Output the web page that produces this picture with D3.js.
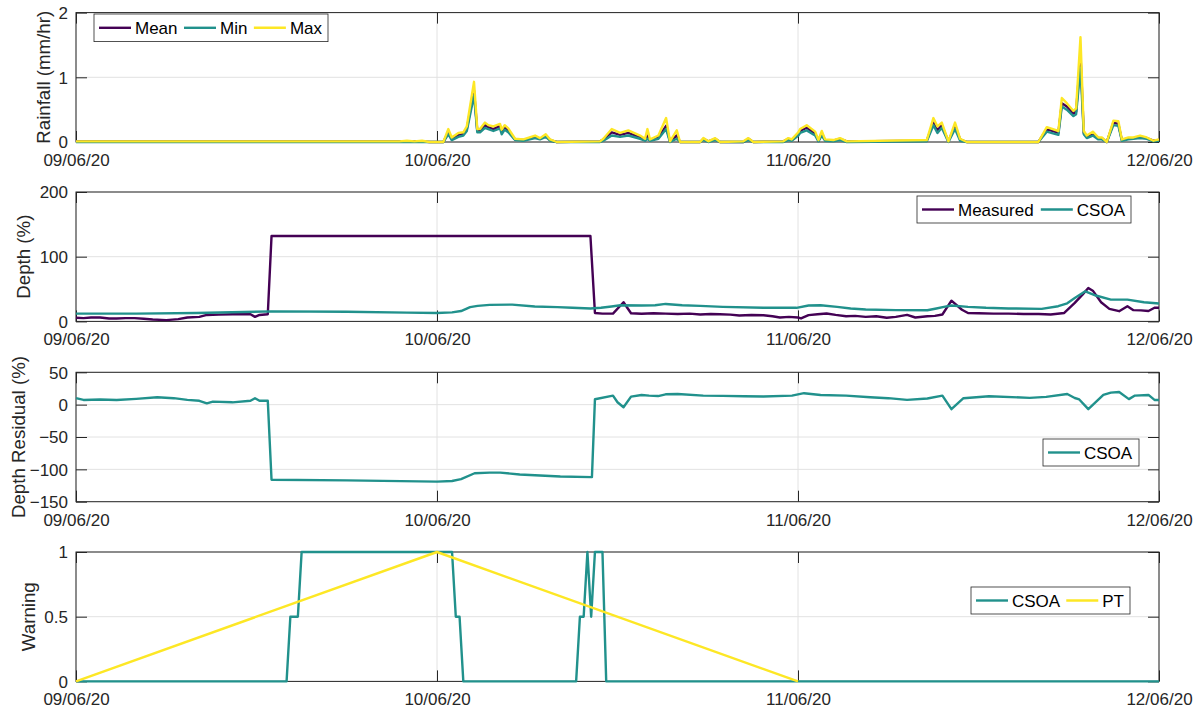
<!DOCTYPE html>
<html>
<head>
<meta charset="utf-8">
<script src="https://cdn.jsdelivr.net/npm/d3@7"></script>
<style>
  body { margin: 0; background: #fff; }
  svg { display: block; font-family: "Liberation Sans", Arial, Helvetica, sans-serif; }
</style>
</head>
<body>
<svg id="chart" width="1201" height="711"></svg>
<script>
// ---- time axis (hours since 09/06/20 00:00) ----
const dayHours = [0, 24, 48, 72];
const dayLabels = ["09/06/20", "10/06/20", "11/06/20", "12/06/20"];

// ---- rainfall (mm/hr) ----
const rainHours = [
  0, 21.5, 22.0, 22.5, 23.0, 23.5, 24.42, 24.75, 24.98, 25.42,
  25.75, 25.98, 26.46, 26.68, 26.86, 27.19, 27.41, 27.75, 28.19, 28.3,
  28.5, 28.74, 29.19, 29.74, 30.52, 30.85, 31.23, 31.52, 31.96, 34.84,
  35.06, 35.62, 36.17, 36.72, 37.5, 37.83, 37.99, 38.16, 38.72, 39.23,
  39.49, 39.94, 40.16, 41.49, 41.71, 42.04, 42.49, 42.82, 44.37, 44.7,
  45.03, 47.03, 47.36, 47.58, 48.02, 48.14, 48.58, 49.14, 49.36, 49.58,
  49.8, 50.35, 50.8, 51.24, 56.56, 57.0, 57.27, 57.56, 58.0, 58.44,
  58.78, 59.22, 63.98, 64.54, 65.31, 65.54, 65.87, 66.31, 66.49, 66.78,
  67.0, 67.2, 67.6, 67.97, 68.2, 68.53, 68.97, 69.3, 69.53, 69.97,
  70.3, 70.74, 71.19, 71.63, 72
];
const rainMean = [
  0.01, 0.01, 0.01, 0.01, 0.01, 0, 0, 0.15, 0.05, 0.11,
  0.13, 0.2, 0.8, 0.17, 0.17, 0.26, 0.23, 0.2, 0.25, 0.15,
  0.22, 0.18, 0.04, 0.03, 0.08, 0.05, 0.1, 0.03, 0, 0.01,
  0.04, 0.15, 0.11, 0.14, 0.07, 0.03, 0.1, 0.03, 0.07, 0.25,
  0.01, 0.1, 0, 0, 0.05, 0.01, 0.05, 0, 0, 0.05,
  0, 0.01, 0.05, 0.03, 0.12, 0.17, 0.22, 0.13, 0.02, 0.13,
  0.03, 0.02, 0.05, 0.01, 0.02, 0.3, 0.18, 0.26, 0.01, 0.25,
  0.04, 0, 0, 0.2, 0.14, 0.6, 0.55, 0.44, 0.47, 1.35,
  0.14, 0.08, 0.13, 0.06, 0.06, 0, 0.3, 0.28, 0.03, 0.06,
  0.06, 0.08, 0.06, 0.02, 0.03
];
const rainMin = [
  0, 0, 0, 0, 0, 0, 0, 0.12, 0.03, 0.08,
  0.1, 0.17, 0.72, 0.15, 0.15, 0.22, 0.2, 0.17, 0.21, 0.12,
  0.19, 0.15, 0.03, 0.02, 0.06, 0.04, 0.08, 0.02, 0, 0,
  0.02, 0.1, 0.08, 0.1, 0.05, 0.02, 0.05, 0.02, 0.05, 0.2,
  0, 0.05, 0, 0, 0.03, 0, 0.03, 0, 0, 0.03,
  0, 0, 0.03, 0.02, 0.1, 0.14, 0.18, 0.1, 0.01, 0.1,
  0.02, 0.01, 0.03, 0, 0.01, 0.26, 0.14, 0.22, 0, 0.2,
  0.02, 0, 0, 0.16, 0.11, 0.55, 0.5, 0.4, 0.43, 1.15,
  0.12, 0.06, 0.1, 0.04, 0.04, 0, 0.26, 0.25, 0.02, 0.04,
  0.05, 0.06, 0.05, 0.01, 0.02
];
const rainMax = [
  0.01, 0.01, 0.02, 0.01, 0.02, 0, 0, 0.2, 0.07, 0.14,
  0.15, 0.24, 0.93, 0.2, 0.2, 0.3, 0.26, 0.24, 0.28, 0.19,
  0.26, 0.21, 0.05, 0.04, 0.1, 0.06, 0.12, 0.04, 0, 0.01,
  0.05, 0.2, 0.14, 0.18, 0.1, 0.05, 0.2, 0.04, 0.1, 0.37,
  0.01, 0.18, 0, 0, 0.06, 0.01, 0.06, 0, 0.01, 0.06,
  0, 0.01, 0.06, 0.04, 0.15, 0.2, 0.26, 0.16, 0.03, 0.17,
  0.04, 0.03, 0.06, 0.01, 0.03, 0.37, 0.24, 0.3, 0.01, 0.3,
  0.05, 0, 0, 0.23, 0.17, 0.68, 0.6, 0.48, 0.52, 1.62,
  0.17, 0.1, 0.16, 0.07, 0.07, 0, 0.33, 0.32, 0.04, 0.07,
  0.07, 0.1, 0.07, 0.02, 0.04
];

// ---- depth (%) ----
const measuredHours = [
  0, 0.5, 1.0, 1.6, 2.2, 2.7, 3.3, 3.9, 4.5, 5.1,
  6.0, 6.8, 7.4, 8.2, 8.7, 9.5, 10.4, 11.0, 11.6, 11.9,
  12.2, 12.75, 13.0, 34.2, 34.5, 35.0, 35.7, 36.4, 36.9, 37.6,
  38.4, 39.2, 40.0, 40.8, 41.5, 42.2, 42.8, 43.5, 44.1, 44.9,
  45.7, 46.3, 46.8, 47.4, 48.0, 48.2, 48.7, 49.3, 49.9, 50.5,
  51.2, 51.8, 52.5, 53.2, 53.9, 54.5, 55.25, 55.8, 56.6, 57.1,
  57.6, 58.2, 58.9, 59.3, 60.0, 61.0, 62.0, 63.0, 64.0, 64.8,
  65.7, 66.4, 66.9, 67.3, 67.6, 68.15, 68.7, 69.35, 69.9, 70.3,
  70.8, 71.3, 71.7, 72
];
const measuredDepth = [
  5.7, 5, 6, 6, 4.5, 4.5, 5, 5, 4, 3,
  2, 3.5, 6, 7, 10, 10.5, 11, 11.5, 11, 7,
  10, 11, 132, 132, 13, 12, 12, 29.6, 12.6, 11.8,
  12.5, 12, 11.5, 12, 10.7, 11.5, 11, 10.5, 9.2, 10,
  9.5, 8, 6, 7, 6, 4.6, 9.7, 11, 12.3, 10,
  8, 8.5, 7, 8, 5.6, 7, 10, 6, 8, 8.5,
  10.7, 32, 18, 13, 12.5, 12, 12, 11.5, 11.5, 10.7,
  13, 28.6, 41, 51.6, 47.5, 29.6, 19.4, 15.8, 23.5, 17.4,
  17, 16, 21, 21
];
const csoaHours = [
  0, 4, 8, 13, 18, 22, 24, 25, 25.6, 26.2,
  26.7, 27.5, 29, 30.5, 32, 33, 34.2, 34.9, 35.6, 36.2,
  37.6, 38.5, 39.2, 40.3, 41.5, 43, 45.7, 47.9, 48.7, 49.5,
  50.6, 51.5, 52.5, 54.5, 56.6, 57.2, 57.7, 58.2, 59.3, 60.5,
  62, 64.2, 65.3, 65.9, 66.4, 67.1, 67.8, 68.8, 69.9, 71.0,
  72
];
const csoaDepth = [
  12, 12, 13, 15.5, 15, 13.5, 13, 14, 16, 22,
  24, 25.5, 26, 23, 22, 21, 20, 21, 23, 25,
  24.5, 25, 27, 25, 24, 22.5, 21, 21, 24.5, 25,
  22.5, 20, 18.4, 17.5, 17.3, 20, 22.5, 24.5, 22.5, 21,
  20, 19.4, 23.5, 28, 36, 46.5, 40, 33.7, 33.7, 29.6,
  27.6
];

// ---- depth residual (%) ----
const residualHours = [
  0, 0.5, 1.6, 2.7, 4.0, 5.4, 6.5, 7.4, 8.2, 8.7,
  9.1, 10.4, 11.6, 11.9, 12.2, 12.75, 13.0, 18, 24, 25.0,
  25.6, 26.5, 27.5, 28.2, 29.5, 32.2, 34.3, 34.5, 35.7, 36.0,
  36.4, 36.9, 37.6, 38.1, 38.7, 39.2, 40.0, 41.7, 43.0, 44.4,
  45.7, 47.6, 48.4, 49.5, 51.2, 52.8, 54.0, 55.25, 56.6, 57.6,
  58.2, 59.0, 60.7, 63.4, 64.5, 65.9, 66.4, 66.7, 67.3, 68.3,
  68.8, 69.35, 70.0, 70.4, 71.3, 71.7, 72
];
const residualCSOA = [
  10, 7.3, 8, 7.3, 9, 11.5, 10, 7.3, 6, 2,
  4.6, 3.6, 6, 10, 6, 6, -116, -117, -119, -118,
  -115, -106, -105, -105, -108, -111, -112, 8.3, 14, 3.7,
  -4, 12.4, 15, 14, 13.3, 16, 16.5, 14, 13.5, 13,
  12.5, 14, 17.7, 15, 14, 11.4, 10, 7.3, 9.5, 14,
  -7, 10, 13, 10.5, 12, 16.5, 10.3, 8, -7, 15,
  18.6, 19.5, 8.5, 14, 15, 7.3, 7.3
];

// ---- warning level ----
const warnHours = [0, 14.0, 14.25, 14.75, 15.0, 25.0, 25.25, 25.5, 25.75, 33.25, 33.5, 33.75, 34.0, 34.25, 34.5, 35.0, 35.25, 72];
const warnCSOA  = [0, 0, 0.5, 0.5, 1, 1, 0.5, 0.5, 0, 0, 0.5, 0.5, 1, 0.5, 1, 1, 0, 0];
const ptHours = [0, 24, 48];
const warnPT  = [0, 1, 0];

// ---- styling ----
const PURPLE = "#440154", TEAL = "#21918c", YELLOW = "#fde725";
const INK = "#262626", GRID = "#e2e2e2";
const LW = 2.4;

const svg = d3.select("#chart");
const plotLeft = 76, plotRight = 1159, panelH = 129.4;
const x = d3.scaleLinear().domain([0, 72]).range([plotLeft, plotRight]);

const panels = [
  {
    top: 12.6, domain: [0, 2], ticks: [0, 1, 2], label: "Rainfall (mm/hr)", labelX: 50.4,
    series: [
      { name: "Mean", hours: rainHours, values: rainMean, color: PURPLE },
      { name: "Min",  hours: rainHours, values: rainMin,  color: TEAL },
      { name: "Max",  hours: rainHours, values: rainMax,  color: YELLOW }
    ],
    legend: { x: 94, y: 14, w: 234, h: 27.6 }
  },
  {
    top: 192, domain: [0, 200], ticks: [0, 100, 200], label: "Depth (%)", labelX: 30,
    series: [
      { name: "Measured", hours: measuredHours, values: measuredDepth, color: PURPLE },
      { name: "CSOA",     hours: csoaHours,     values: csoaDepth,     color: TEAL }
    ],
    legend: { x: 917, y: 196, w: 214, h: 27 }
  },
  {
    top: 372.3, domain: [-150, 50], ticks: [-150, -100, -50, 0, 50], label: "Depth Residual (%)", labelX: 25,
    series: [
      { name: "CSOA", hours: residualHours, values: residualCSOA, color: TEAL }
    ],
    legend: { x: 1043, y: 439, w: 96, h: 27 }
  },
  {
    top: 552, domain: [0, 1], ticks: [0, 0.5, 1], label: "Warning", labelX: 35,
    series: [
      { name: "CSOA", hours: warnHours, values: warnCSOA, color: TEAL },
      { name: "PT",   hours: ptHours,   values: warnPT,   color: YELLOW }
    ],
    legend: { x: 971, y: 587, w: 159, h: 27 }
  }
];

panels.forEach(p => {
  const bottom = p.top + panelH;
  const y = d3.scaleLinear().domain(p.domain).range([bottom, p.top]);
  const g = svg.append("g");

  // grid
  g.append("g").selectAll("line").data(dayHours).join("line")
    .attr("x1", d => x(d)).attr("x2", d => x(d))
    .attr("y1", p.top).attr("y2", bottom)
    .attr("stroke", GRID).attr("stroke-width", 1);
  g.append("g").selectAll("line").data(p.ticks).join("line")
    .attr("x1", plotLeft).attr("x2", plotRight)
    .attr("y1", d => y(d)).attr("y2", d => y(d))
    .attr("stroke", GRID).attr("stroke-width", 1);

  // axes with inward ticks
  const styleAxis = sel => {
    sel.attr("font-family", null).attr("font-size", null);
    sel.select(".domain").remove();
    sel.selectAll(".tick line").attr("stroke", INK).attr("stroke-width", 1);
    sel.selectAll(".tick text").attr("fill", INK).style("font-size", "17px");
  };
  g.append("g").attr("transform", `translate(${plotLeft},0)`)
    .call(d3.axisLeft(y).tickValues(p.ticks).tickSizeInner(-11).tickSizeOuter(0).tickPadding(8)
      .tickFormat(d3.format("")))
    .call(styleAxis)
    .call(s => s.selectAll(".tick text").attr("dy", "0.34em"));
  g.append("g").attr("transform", `translate(${plotRight},0)`)
    .call(d3.axisRight(y).tickValues(p.ticks).tickSizeInner(-11).tickSizeOuter(0).tickFormat(""))
    .call(styleAxis);
  g.append("g").attr("transform", `translate(0,${bottom})`)
    .call(d3.axisBottom(x).tickValues(dayHours).tickSizeInner(-11).tickSizeOuter(0).tickPadding(12)
      .tickFormat((d, i) => dayLabels[i]))
    .call(styleAxis);
  g.append("g").attr("transform", `translate(0,${p.top})`)
    .call(d3.axisTop(x).tickValues(dayHours).tickSizeInner(-11).tickSizeOuter(0).tickFormat(""))
    .call(styleAxis);

  // box
  g.append("rect")
    .attr("x", plotLeft).attr("y", p.top)
    .attr("width", plotRight - plotLeft).attr("height", panelH)
    .attr("fill", "none").attr("stroke", INK).attr("stroke-width", 1);

  // y label
  g.append("text")
    .attr("transform", `translate(${p.labelX},${p.top + panelH / 2}) rotate(-90)`)
    .attr("text-anchor", "middle").attr("fill", INK)
    .style("font-size", "18.7px")
    .text(p.label);

  // series
  const line = d3.line().x(d => x(d[0])).y(d => y(d[1]));
  p.series.forEach(s => {
    g.append("path")
      .datum(d3.zip(s.hours, s.values))
      .attr("d", line)
      .attr("fill", "none")
      .attr("stroke", s.color)
      .attr("stroke-width", LW)
      .attr("stroke-linejoin", "round");
  });

  // legend
  const L = p.legend;
  const lg = g.append("g");
  lg.append("rect").attr("x", L.x).attr("y", L.y).attr("width", L.w).attr("height", L.h)
    .attr("fill", "#fff").attr("stroke", INK).attr("stroke-width", 0.8);
  const cy = L.y + L.h / 2;
  const texts = p.series.map(s => lg.append("text").attr("fill", "#000")
    .style("font-size", "17px").attr("y", cy + 6.1).text(s.name));
  const widths = texts.map(t => t.node().getComputedTextLength());
  const itemsW = d3.sum(widths) + p.series.length * 36;
  const gap = p.series.length > 1 ? (L.w - 11 - itemsW) / (p.series.length - 1) : 0;
  let cx = L.x + 5;
  p.series.forEach((s, i) => {
    lg.append("line").attr("x1", cx).attr("x2", cx + 32).attr("y1", cy).attr("y2", cy)
      .attr("stroke", s.color).attr("stroke-width", LW);
    texts[i].attr("x", cx + 36);
    cx += 36 + widths[i] + gap;
  });
});
</script>
</body>
</html>
